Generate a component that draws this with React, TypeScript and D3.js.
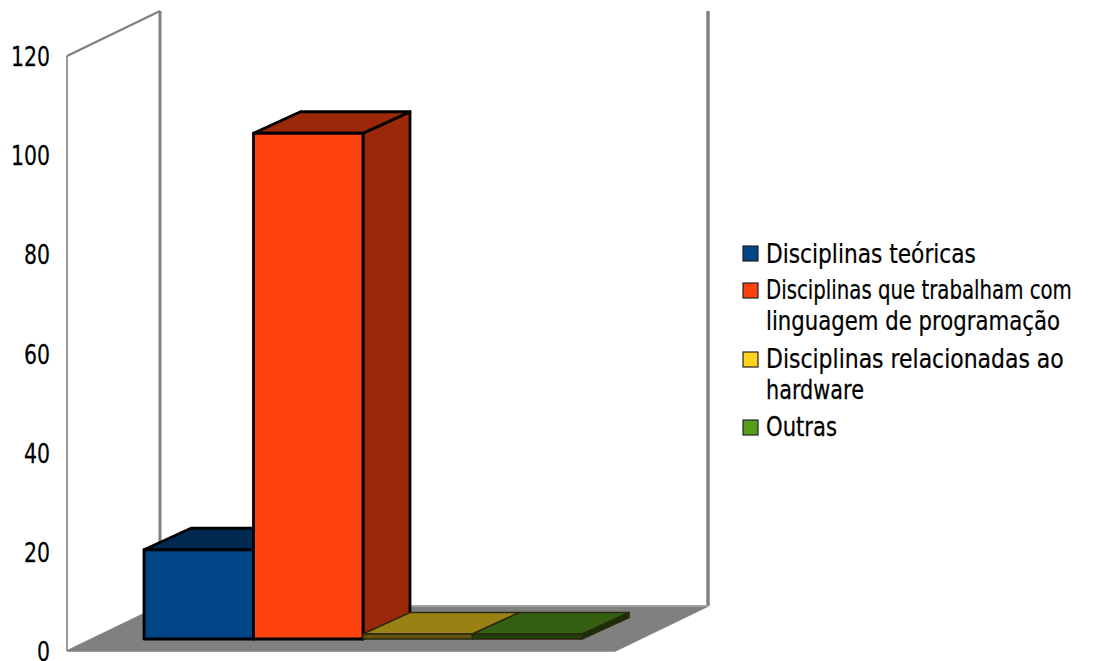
import React from "react";
import * as d3 from "d3";

const categories = [
  "Disciplinas teóricas",
  "Disciplinas que trabalham com linguagem de programação",
  "Disciplinas relacionadas ao hardware",
  "Outras",
];
const values = [18, 102, 1, 1];
const frontColors = ["#004586", "#ff420e", "#ffd320", "#579d1c"];
const legendLines = [
  ["Disciplinas teóricas"],
  ["Disciplinas que trabalham com", "linguagem de programação"],
  ["Disciplinas relacionadas ao", "hardware"],
  ["Outras"],
];
const yTicks = [0, 20, 40, 60, 80, 100, 120];

// Legend layout: swatch tops, text baselines and set widths of each line.
const swatchTops = [246, 283, 352, 420];
const legendBaselines = [263, 299, 368, 436];
const lineWidths = [[210], [306, 294], [298, 98], [71]];
const tickWidth = (t: number) => String(t).length * 13;

const FONT = "'DejaVu Sans', sans-serif";
const WALL = "#808080";

// Oblique offset of the chart's rear plane, and how far bars sit inside the floor.
const depth = { x: 93, y: -45 };
const barDepth = { x: 47, y: -21.5 };
const barInset = 12;

const y = d3.scaleLinear().domain([0, 120]).range([651, 56]);
const x = d3.scaleBand<string>().domain(categories).range([144, 582]).padding(0);

const poly = (pts: [number, number][]) => {
  const p = d3.path();
  pts.forEach(([a, b], i) => (i ? p.lineTo(a, b) : p.moveTo(a, b)));
  p.closePath();
  return p.toString();
};

const shade = (c: string, k: number) => d3.color(c)!.darker(k).formatHex();

const measureCtx = document.createElement("canvas").getContext("2d")!;

// Text squeezed horizontally so that it spans exactly `width` pixels.
function FitText({ str, px, baseline, width, size }: { str: string; px: number; baseline: number; width: number; size: number }) {
  measureCtx.font = `${size}px ${FONT}`;
  const k = width / measureCtx.measureText(str).width;
  return (
    <text
      transform={`translate(${px},${baseline}) scale(${k},1)`}
      fontFamily={FONT}
      fontSize={size}
      stroke="#000"
      strokeWidth={0.25}
      fill="#000"
    >
      {str}
    </text>
  );
}

function Bar({ name, value, color }: { name: string; value: number; color: string }) {
  const x0 = x(name)!;
  const x1 = x0 + x.bandwidth();
  const base = y(0) - barInset;
  const top = y(value) - barInset;
  const { x: dx, y: dy } = barDepth;
  const dark = shade(color, 1.4);
  const flat = base - top < 8;
  const outline = {
    stroke: flat ? "#2a2a10" : "#000",
    strokeWidth: flat ? 1.6 : 2.8,
    strokeLinejoin: "round" as const,
  };
  return (
    <g>
      <path d={poly([[x1, base], [x1 + dx, base + dy], [x1 + dx, top + dy], [x1, top]])} fill={flat ? shade(color, 3.4) : dark} {...outline} />
      <path d={poly([[x0, top], [x0 + dx, top + dy], [x1 + dx, top + dy], [x1, top]])} fill={dark} {...outline} />
      <rect x={x0} y={top} width={x1 - x0} height={base - top} fill={flat ? shade(color, 2.6) : color} {...outline} />
    </g>
  );
}

export default function App() {
  const left = 67;
  const right = 615;
  const y0 = y(0);
  const yMax = y(120);
  const backTop = yMax + depth.y;
  return (
    <svg
      width={1110}
      height={661}
      viewBox="0 0 1110 661"
      style={{ position: "absolute", left: 0, top: 0, background: "#fff" }}
    >
      {/* Floor and walls */}
      <path
        d={poly([[left, y0], [left + depth.x, y0 + depth.y], [right + depth.x, y0 + depth.y], [right, y0]])}
        fill={WALL}
        stroke={WALL}
        strokeWidth={1.5}
      />
      <path d={`M${left},${y0}V${yMax}`} fill="none" stroke={WALL} strokeWidth={1.6} />
      <path d={`M${left},${yMax}L${left + depth.x},${backTop}`} fill="none" stroke={WALL} strokeWidth={2.4} />
      <path d={`M${left + depth.x},${backTop}V${y0 + depth.y}`} stroke={WALL} strokeWidth={3} fill="none" />
      <path d={`M${right + depth.x},${backTop}V${y0 + depth.y}`} stroke={WALL} strokeWidth={3.4} fill="none" />
      <path d={`M${left + depth.x},${y0 + depth.y}H${right + depth.x}`} stroke="#a8a8a8" strokeWidth={1.6} />

      {/* Bars, painted left to right */}
      {categories.map((c, i) => (
        <Bar key={c} name={c} value={values[i]} color={frontColors[i]} />
      ))}

      {/* Value axis labels */}
      {yTicks.map((t) => (
        <FitText
          key={t}
          str={String(t)}
          px={50 - tickWidth(t)}
          baseline={y(t) + 10}
          width={tickWidth(t)}
          size={27}
        />
      ))}

      {/* Legend */}
      {categories.map((c, i) => (
        <g key={c}>
          <rect
            x={743}
            y={swatchTops[i]}
            width={15}
            height={15}
            fill={frontColors[i]}
            stroke="#222"
            strokeWidth={1.2}
          />
          {legendLines[i].map((line, j) => (
            <FitText
              key={line}
              str={line}
              px={766}
              baseline={legendBaselines[i] + j * 31}
              width={lineWidths[i][j]}
              size={26}
            />
          ))}
        </g>
      ))}
    </svg>
  );
}
